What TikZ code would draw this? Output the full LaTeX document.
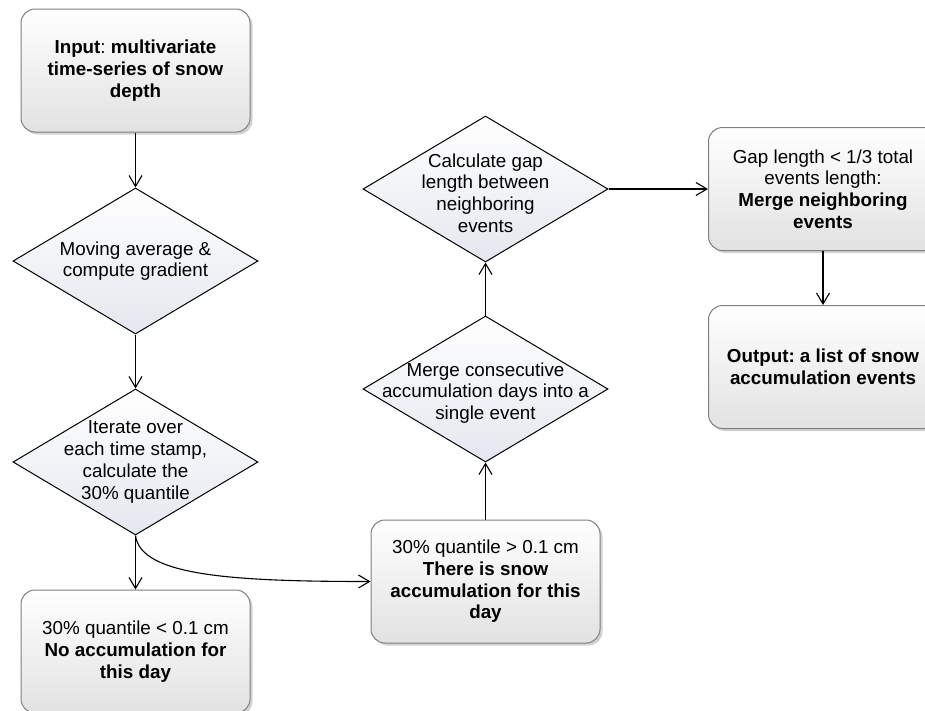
\documentclass[tikz,border=0pt]{standalone}
\usepackage{fontspec}
\setmainfont{Liberation Sans}
\usetikzlibrary{shapes.geometric, arrows.meta, positioning, shadows}
\frenchspacing

\definecolor{boxbot}{HTML}{E2E2E2}
\definecolor{decbot}{HTML}{E4E7EE}

\begin{document}
\begin{tikzpicture}[
  x=1pt, y=1pt,
  font=\fontsize{18.8}{21.7}\selectfont,
  box/.style={rectangle, rounded corners=14pt, draw=black!50, line width=1pt, minimum width=229pt, minimum height=123pt, align=center, top color=white, bottom color=boxbot, drop shadow={shadow xshift=2.5pt, shadow yshift=-2.5pt, fill=black!35, opacity=0.5}},
  dec/.style={diamond, draw, line width=1pt, minimum width=245pt, minimum height=146pt, inner sep=0pt, top color=white, bottom color=decbot},
  dtext/.style={align=center, inner sep=0pt},
  arrow/.style={-{Straight Barb[length=11pt, width=13pt]}, line width=1.1pt}
]

\path [use as bounding box, fill=white] (0,0) rectangle (925,-710);

\node (input) [box] at (135.5,-70.5) {\textbf{Input}: \textbf{multivariate}\\\textbf{time-series of snow}\\\textbf{depth}};
\node (avg) [dec, below=55pt of input, label={[dtext]center:{Moving average \&\\compute gradient}}] {};
\node (iter) [dec, below=54pt of avg, label={[dtext]center:{Iterate over\\each time stamp,\\calculate the\\30\% quantile}}] {};
\node (noacc) [box, below=54pt of iter] {30\% quantile < 0.1 cm\\\textbf{No accumulation for}\\\textbf{this day}};

\node (snow) [box] at (485.5,-581.5) {30\% quantile > 0.1 cm\\\textbf{There is snow}\\\textbf{accumulation for this}\\\textbf{day}};
\node (merge) [dec, above=57pt of snow, label={[dtext, yshift=-4pt]center:{Merge consecutive\\accumulation days into a\\single event}}] {};
\node (calc) [dec, above=53pt of merge, label={[dtext, yshift=-4pt]center:{Calculate gap\\length between\\neighboring\\events}}] {};

\node (gap) [box, right=99.5pt of calc] {Gap length < 1/3 total\\events length:\\\textbf{Merge neighboring}\\\textbf{events}};
\node (output) [box, below=54pt of gap] {\textbf{Output: a list of snow}\\\textbf{accumulation events}};

\draw [arrow] (input) -- (avg);
\draw [arrow] (avg) -- (iter);
\draw [arrow] (iter) -- (noacc);
\draw [arrow] (iter.south) .. controls +(5,-40) and +(-140,0) .. (snow.west);
\draw [arrow] (snow) -- (merge);
\draw [arrow] (merge) -- (calc);
\draw [arrow] (calc) -- (gap);
\draw [arrow] (gap) -- (output);

\end{tikzpicture}
\end{document}
